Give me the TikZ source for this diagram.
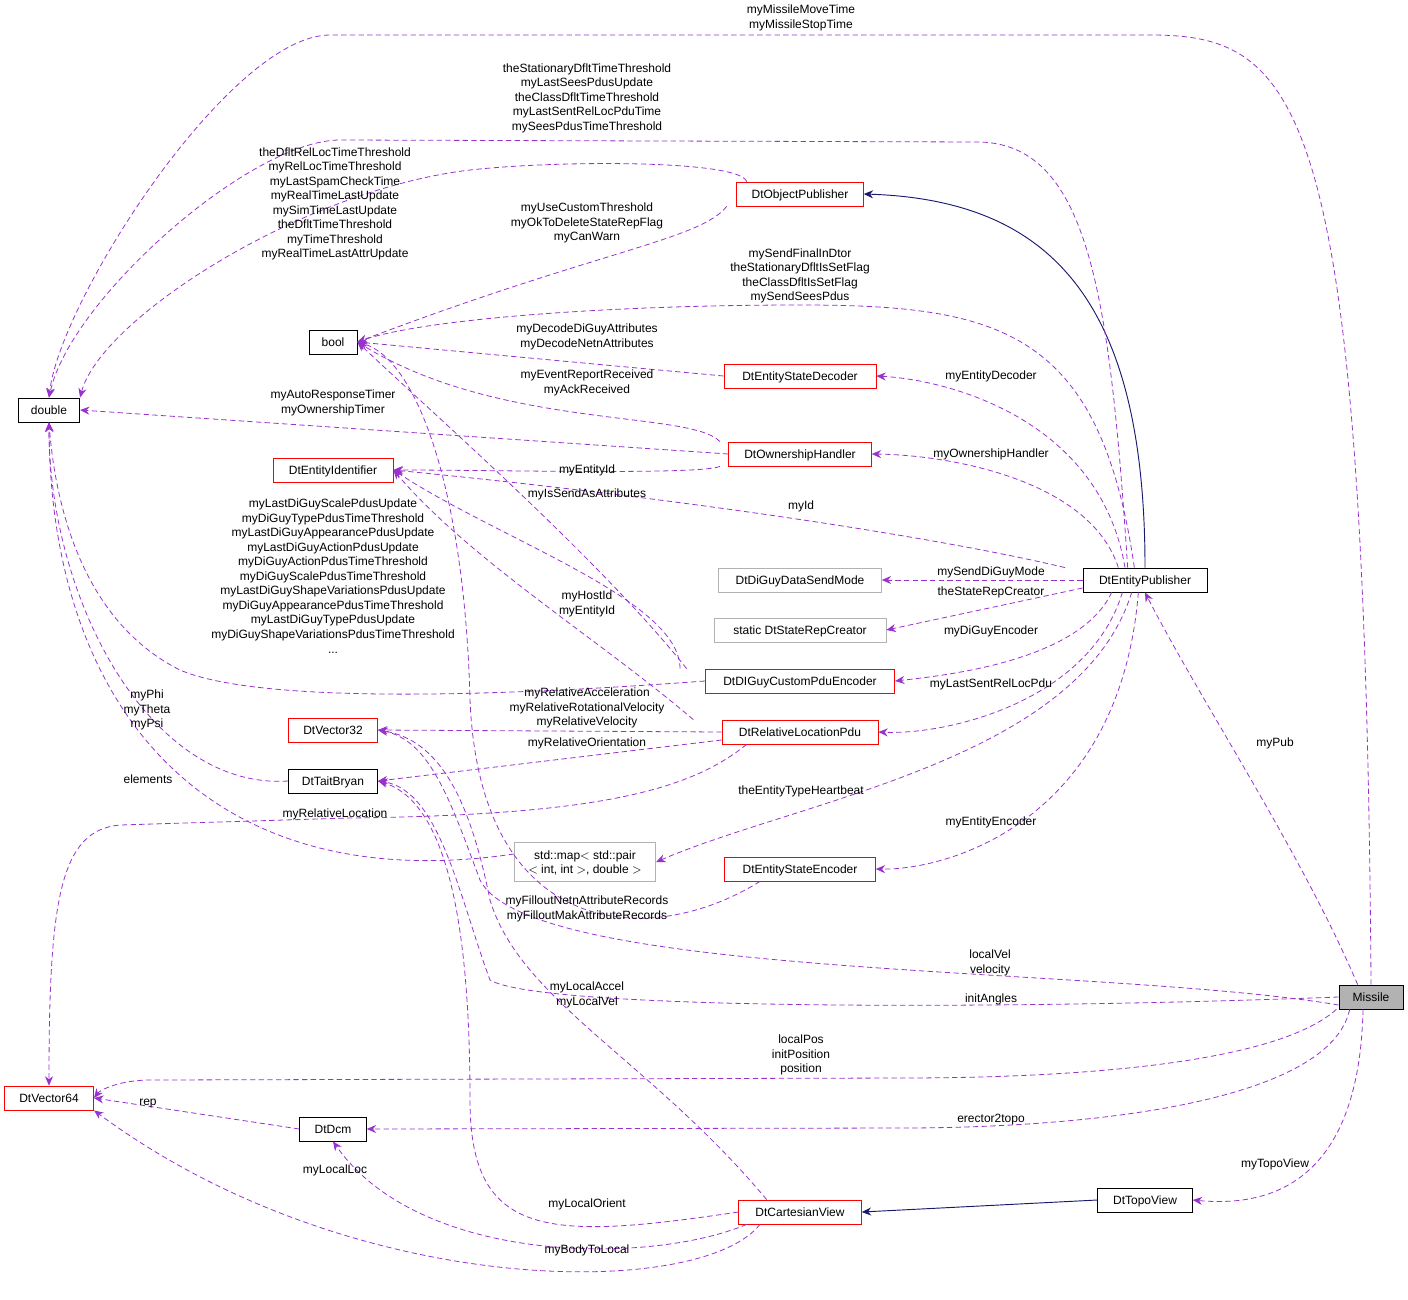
\documentclass[tikz,border=0pt]{standalone}
\usepackage{fontspec}
\setmainfont{Liberation Sans}
\usetikzlibrary{arrows.meta}
\definecolor{ep}{RGB}{153,50,205}
\definecolor{nv}{RGB}{25,25,112}
\begin{document}
\begin{tikzpicture}[x=0.75pt,y=-0.75pt,
  every node/.style={font=\fontsize{9}{10.9}\selectfont},
  box/.style={draw=black,fill=white,inner sep=0pt,minimum height=18pt,text depth=0pt,line width=0.6pt},
  rbox/.style={box,draw=red},
  gbox/.style={box,draw=gray!60},
  lab/.style={align=center,inner sep=0pt},
  e/.style={draw=ep,line width=0.6pt,dash pattern=on 4pt off 2.5pt,-{Stealth[length=7pt,width=6pt]},fill=none},
  inh/.style={draw=nv,line width=0.7pt,-{Stealth[length=7pt,width=6pt]}}]
\useasboundingbox (0,0) rectangle (1408,1299);
\node[box,fill=gray!60,minimum width=48pt] (mis) at (1371,997) {Missile};
\node[box,minimum width=93pt] (ep) at (1145,580) {DtEntityPublisher};
\node[rbox,minimum width=95pt] (op) at (800,194) {DtObjectPublisher};
\node[box,minimum width=36pt] (bool) at (333,342) {bool};
\node[box,minimum width=46pt] (dbl) at (49,410) {double};
\node[rbox,minimum width=114pt] (esd) at (800,376) {DtEntityStateDecoder};
\node[rbox,minimum width=107pt] (oh) at (800,454) {DtOwnershipHandler};
\node[rbox,minimum width=90pt] (ei) at (333,470) {DtEntityIdentifier};
\node[gbox,minimum width=122pt] (dds) at (800,580) {DtDiGuyDataSendMode};
\node[gbox,minimum width=129pt] (src) at (800,630) {static DtStateRepCreator};
\node[rbox,minimum width=142pt] (dcp) at (800,681) {DtDIGuyCustomPduEncoder};
\node[rbox,minimum width=117pt] (rlp) at (800,732) {DtRelativeLocationPdu};
\node[rbox,minimum width=67pt] (v32) at (333,730) {DtVector32};
\node[box,minimum width=67pt] (tb) at (333,781) {DtTaitBryan};
\node[gbox,minimum width=106pt,minimum height=29pt,align=center] (map) at (585,862) {std::map$<$ std::pair\\$<$ int, int $>$, double $>$};
\node[rbox,minimum width=113pt] (ese) at (800,869) {DtEntityStateEncoder};
\node[rbox,minimum width=67pt] (v64) at (49,1098) {DtVector64};
\node[box,minimum width=50pt] (dcm) at (333,1129) {DtDcm};
\node[rbox,minimum width=92pt] (cv) at (800,1212) {DtCartesianView};
\node[box,minimum width=71pt] (tv) at (1145,1200) {DtTopoView};
% inheritance
\draw[inh] (ep.north) .. controls (1145,300) and (1050,200) .. (op.east);
\draw[inh] (tv.west) -- (cv.east);
% usage
\draw[e] (mis.north) .. controls (1365,100) and (1300,35) .. (1150,35) -- (330,35) .. controls (230,35) and (60,300) .. (dbl.north);
\draw[e] ([xshift=-13]ep.north) .. controls (1110,300) and (1090,145) .. (980,142) -- (340,140) .. controls (250,140) and (70,300) .. (dbl.north);
\draw[e] ([xshift=-40]op.north) .. controls (740,160) and (560,160) .. (470,170) .. controls (300,190) and (100,320) .. (dbl.north east);
\draw[e] ([xshift=-55]op.south) .. controls (700,240) and (600,250) .. (bool.east);
\draw[e] ([xshift=-8]ep.north) .. controls (1100,330) and (1000,305) .. (800,305) .. controls (600,305) and (420,320) .. (bool.east);
\draw[e] (esd.west) -- (bool.east);
\draw[e] ([xshift=-60]oh.north) .. controls (690,410) and (500,430) .. (bool.east);
\draw[e] (oh.west) -- (dbl.east);
\draw[e] ([xshift=-60]oh.south) .. controls (700,475) and (500,470) .. (ei.east);
\draw[e] ([xshift=-60]ep.north) .. controls (950,540) and (700,500) .. (ei.east);
\draw[e] ([xshift=-15]ep.north) .. controls (1100,420) and (950,380) .. (esd.east);
\draw[e] ([xshift=-20]ep.north) .. controls (1090,480) and (950,455) .. (oh.east);
\draw[e] (ep.west) -- (dds.east);
\draw[e] ([yshift=-6]ep.west) -- (src.east);
\draw[e] ([xshift=-25]ep.south) .. controls (1080,660) and (950,675) .. (dcp.east);
\draw[e] ([xshift=-17]ep.south) .. controls (1090,700) and (950,735) .. (rlp.east);
\draw[e] ([xshift=-10]ep.south) .. controls (1080,760) and (800,800) .. (map.east);
\draw[e] ([xshift=-5]ep.south) .. controls (1120,820) and (950,870) .. (ese.east);
\draw[e] ([xshift=-85]dcp.north) .. controls (600,560) and (440,420) .. (bool.east);
\draw[e] ([xshift=-90]dcp.north) .. controls (680,600) and (500,540) .. (ei.east);
\draw[e] (dcp.west) .. controls (450,700) and (250,700) .. (180,670) .. controls (80,620) and (55,500) .. (dbl.south);
\draw[e] ([xshift=-80]rlp.north) .. controls (600,640) and (470,560) .. (ei.east);
\draw[e] (rlp.west) -- (v32.east);
\draw[e] ([yshift=-6]rlp.west) -- (tb.east);
\draw[e] ([xshift=-40]rlp.south) .. controls (690,790) and (600,815) .. (350,818) -- (120,825) .. controls (60,830) and (49,900) .. (v64.north);
\draw[e] (tb.west) .. controls (150,790) and (49,600) .. (dbl.south);
\draw[e] ([yshift=6]map.west) .. controls (200,900) and (50,700) .. (dbl.south);
\draw[e] ([xshift=-30]ese.south) .. controls (650,950) and (480,940) .. (470,700) .. controls (465,500) and (420,360) .. (bool.east);
\draw[e] ([yshift=-6]mis.west) .. controls (1100,965) and (530,980) .. (480,880) .. controls (450,800) and (430,740) .. (v32.east);
\draw[e] (mis.west) .. controls (1000,1010) and (540,1010) .. (490,980) .. controls (460,900) and (440,790) .. (tb.east);
\draw[e] ([xshift=-26]mis.south) .. controls (1280,1060) and (1100,1078) .. (900,1078) -- (150,1080) .. controls (120,1080) and (100,1090) .. (v64.east);
\draw[e] ([xshift=-16]mis.south) .. controls (1330,1100) and (1100,1128) .. (900,1128) -- (dcm.east);
\draw[e] ([xshift=-6]mis.south) .. controls (1360,1150) and (1300,1210) .. (tv.east);
\draw[e] ([xshift=-10]mis.north) .. controls (1300,850) and (1200,700) .. (ep.south);
\draw[e] (dcm.west) -- (v64.east);
\draw[e] ([xshift=-30]cv.south) .. controls (700,1300) and (350,1300) .. (v64.south east);
\draw[e] ([xshift=-40]cv.south) .. controls (650,1265) and (420,1265) .. (dcm.south);
\draw[e] ([xshift=-25]cv.north) .. controls (650,1060) and (520,1000) .. (490,900) .. controls (470,800) and (440,740) .. (v32.east);
\draw[e] (cv.west) .. controls (550,1240) and (470,1240) .. (470,1100) .. controls (470,900) and (440,800) .. (tb.east);
% labels
\node[lab] at (801,18) {myMissileMoveTime\\myMissileStopTime};
\node[lab] at (587,98) {theStationaryDfltTimeThreshold\\myLastSeesPdusUpdate\\theClassDfltTimeThreshold\\myLastSentRelLocPduTime\\mySeesPdusTimeThreshold};
\node[lab] at (335,204) {theDfltRelLocTimeThreshold\\myRelLocTimeThreshold\\myLastSpamCheckTime\\myRealTimeLastUpdate\\mySimTimeLastUpdate\\theDfltTimeThreshold\\myTimeThreshold\\myRealTimeLastAttrUpdate};
\node[lab] at (587,223) {myUseCustomThreshold\\myOkToDeleteStateRepFlag\\myCanWarn};
\node[lab] at (800,276) {mySendFinalInDtor\\theStationaryDfltIsSetFlag\\theClassDfltIsSetFlag\\mySendSeesPdus};
\node[lab] at (587,337) {myDecodeDiGuyAttributes\\myDecodeNetnAttributes};
\node[lab] at (587,383) {myEventReportReceived\\myAckReceived};
\node[lab] at (333,403) {myAutoResponseTimer\\myOwnershipTimer};
\node[lab] at (587,470) {myEntityId};
\node[lab] at (587,494) {myIsSendAsAttributes};
\node[lab] at (801,506) {myId};
\node[lab] at (991,376) {myEntityDecoder};
\node[lab] at (991,454) {myOwnershipHandler};
\node[lab] at (991,572) {mySendDiGuyMode};
\node[lab] at (991,592) {theStateRepCreator};
\node[lab] at (991,631) {myDiGuyEncoder};
\node[lab] at (991,684) {myLastSentRelLocPdu};
\node[lab] at (587,604) {myHostId\\myEntityId};
\node[lab] at (333,576) {myLastDiGuyScalePdusUpdate\\myDiGuyTypePdusTimeThreshold\\myLastDiGuyAppearancePdusUpdate\\myLastDiGuyActionPdusUpdate\\myDiGuyActionPdusTimeThreshold\\myDiGuyScalePdusTimeThreshold\\myLastDiGuyShapeVariationsPdusUpdate\\myDiGuyAppearancePdusTimeThreshold\\myLastDiGuyTypePdusUpdate\\myDiGuyShapeVariationsPdusTimeThreshold\\...};
\node[lab] at (587,708) {myRelativeAcceleration\\myRelativeRotationalVelocity\\myRelativeVelocity};
\node[lab] at (587,743) {myRelativeOrientation};
\node[lab] at (147,710) {myPhi\\myTheta\\myPsi};
\node[lab] at (148,779) {elements};
\node[lab] at (335,814) {myRelativeLocation};
\node[lab] at (801,791) {theEntityTypeHeartbeat};
\node[lab] at (991,822) {myEntityEncoder};
\node[lab] at (587,909) {myFilloutNetnAttributeRecords\\myFilloutMakAttributeRecords};
\node[lab] at (990,963) {localVel\\velocity};
\node[lab] at (991,999) {initAngles};
\node[lab] at (587,995) {myLocalAccel\\myLocalVel};
\node[lab] at (801,1055) {localPos\\initPosition\\position};
\node[lab] at (148,1103) {rep};
\node[lab] at (991,1120) {erector2topo};
\node[lab] at (1275,743) {myPub};
\node[lab] at (1275,1164) {myTopoView};
\node[lab] at (335,1170) {myLocalLoc};
\node[lab] at (587,1204) {myLocalOrient};
\node[lab] at (587,1250) {myBodyToLocal};
\end{tikzpicture}
\end{document}
